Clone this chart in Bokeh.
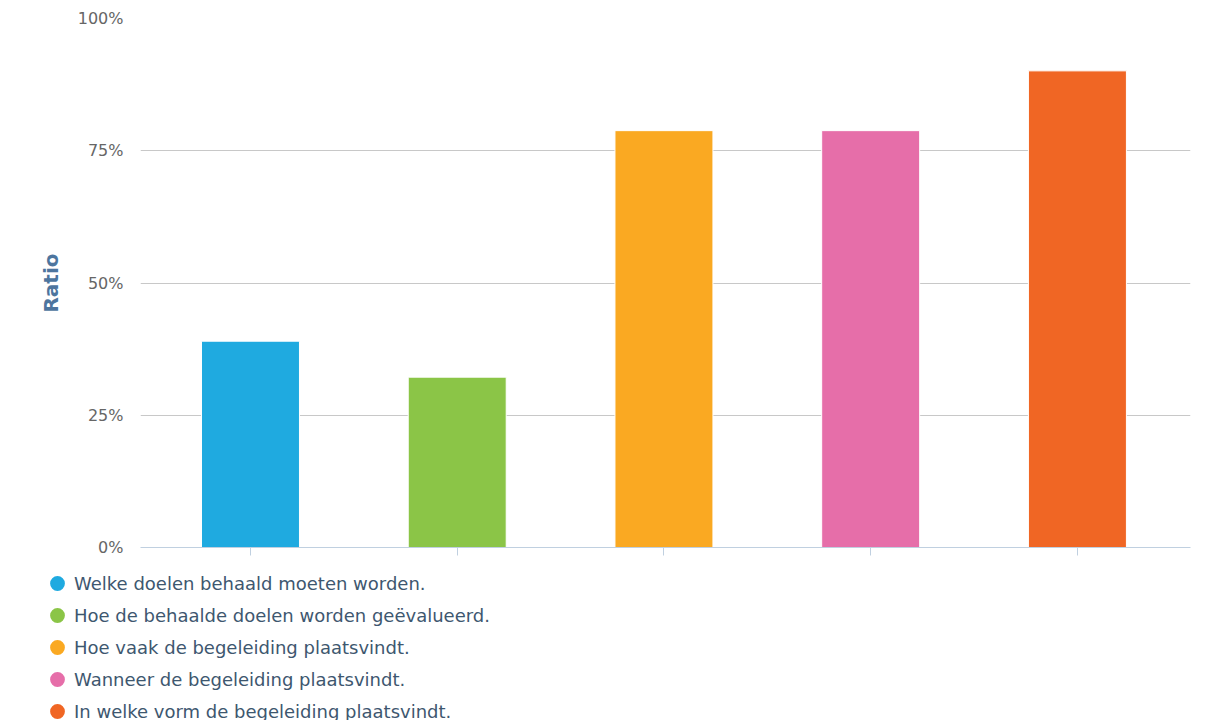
from bokeh.plotting import figure
from bokeh.layouts import column
from bokeh.models import (ColumnDataSource, Range1d, FixedTicker,
                          NumeralTickFormatter, Legend, LegendItem)
from bokeh.embed import file_html
from bokeh.resources import INLINE

# ---- data -------------------------------------------------------------
categories = [
    "Welke doelen behaald moeten worden.",
    "Hoe de behaalde doelen worden geëvalueerd.",
    "Hoe vaak de begeleiding plaatsvindt.",
    "Wanneer de begeleiding plaatsvindt.",
    "In welke vorm de begeleiding plaatsvindt.",
]
ratios = [0.390, 0.322, 0.788, 0.788, 0.901]
colors = ["#1faae0", "#8bc547", "#faa922", "#e66ea9", "#f06624"]
y_ticks = [0, 0.25, 0.5, 0.75, 1.0]
y_axis_title = "Ratio"

positions = list(range(len(categories)))
src = ColumnDataSource(dict(x=positions, cat=categories, ratio=ratios, color=colors))

# ---- main chart -------------------------------------------------------
W = 1205
MAIN_H = 565
x_range = Range1d(-0.532, len(categories) - 1 + 0.547)

p = figure(width=W, height=MAIN_H, x_range=x_range, y_range=Range1d(0, 1),
           output_backend="svg", toolbar_location=None,
           min_border_left=140, min_border_right=15,
           min_border_top=18, min_border_bottom=18)
p.outline_line_color = None
p.background_fill_color = "white"
p.border_fill_color = "white"

p.vbar(x="x", top="ratio", width=0.474, fill_color="color",
       line_color="white", line_width=1, source=src)

yax = p.yaxis[0]
yax.ticker = FixedTicker(ticks=y_ticks)
yax.formatter = NumeralTickFormatter(format="0%")
yax.major_label_text_font = "DejaVu Sans"
yax.major_label_text_font_size = "16px"
yax.major_label_text_color = "#666666"
yax.axis_line_color = None
yax.major_tick_line_color = None
yax.minor_tick_line_color = None
yax.major_tick_out = 0
yax.major_tick_in = 0
yax.major_label_standoff = 17
yax.axis_label = y_axis_title
yax.axis_label_text_font = "DejaVu Sans"
yax.axis_label_text_font_style = "bold"
yax.axis_label_text_font_size = "20px"
yax.axis_label_text_color = "#4d759e"
yax.axis_label_standoff = 12

xax = p.xaxis[0]
xax.ticker = FixedTicker(ticks=positions)
xax.major_label_overrides = {i: "" for i in positions}
xax.major_label_text_font_size = "1px"
xax.major_label_standoff = 0
xax.axis_line_color = "#c0d0e0"
xax.major_tick_line_color = "#c0d0e0"
xax.major_tick_out = 8
xax.major_tick_in = 0
xax.minor_tick_line_color = None

p.xgrid.grid_line_color = None
p.ygrid.ticker = FixedTicker(ticks=y_ticks)
p.ygrid.grid_line_color = "#c8c8c8"
p.ygrid.grid_line_width = 1

# ---- legend strip below the chart ------------------------------------
LEG_H = 155
pl = figure(width=W, height=LEG_H, x_range=x_range, y_range=Range1d(1.5, 2.5),
            output_backend="svg", toolbar_location=None,
            x_axis_location=None, y_axis_location=None,
            min_border=0, min_border_left=0, min_border_right=0,
            min_border_top=0, min_border_bottom=0)
pl.outline_line_color = None
pl.xgrid.visible = False
pl.ygrid.visible = False
pl.background_fill_color = "white"
pl.border_fill_color = "white"

for fig in (p, pl):
    try:
        fig.frame_align = False
    except Exception:
        pass

# zero-size proxy markers (outside the strip's range): the legend draws them
leg_r = pl.scatter(x="x", y="ratio", size=0, marker="circle",
                   fill_color="color", line_color="color", line_width=2,
                   source=src)

items = [LegendItem(label=c, renderers=[leg_r], index=i)
         for i, c in enumerate(categories)]
legend = Legend(items=items, location=(41, -7),
                glyph_width=32, glyph_height=32, label_height=32,
                spacing=0, padding=0, margin=0, label_standoff=1,
                label_text_font="DejaVu Sans", label_text_font_size="18px",
                label_text_color="#3e576f",
                background_fill_alpha=0, border_line_color=None)
pl.add_layout(legend)

layout = column(p, pl, spacing=0)
open("out.html", "w").write(file_html(layout, INLINE))
